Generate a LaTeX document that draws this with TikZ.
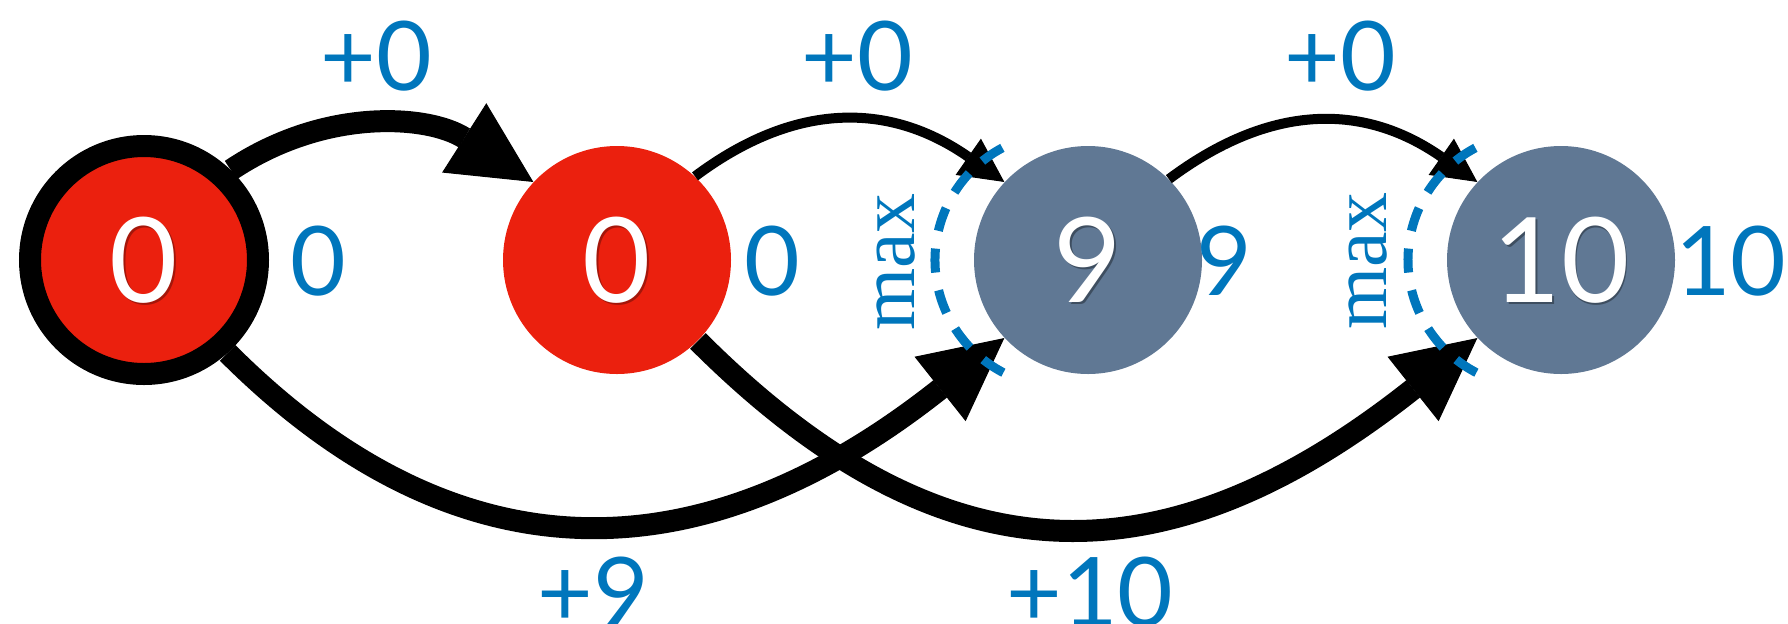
\documentclass[tikz,border=0pt]{standalone}
\usepackage{fontspec}
\setmainfont{Lato}
\newfontfamily\maxfont{Liberation Serif}
\usetikzlibrary{arrows.meta}

\definecolor{nodered}{RGB}{235,32,14}
\definecolor{nodeslate}{RGB}{96,120,148}
\definecolor{labelblue}{RGB}{0,118,188}

% white digit with a faint dark copy underneath
\newcommand\shadowdigit[2]{\rlap{\kern0.8pt\smash{\raisebox{-0.9pt}{\textcolor{#1}{#2}}}}#2}

\begin{document}
\begin{tikzpicture}[x=0.5pt, y=-0.5pt,
  state/.style={circle, minimum size=114pt, inner sep=0pt, text=white,
    font=\fontsize{59}{59}\selectfont},
  redstate/.style={state, fill=nodered},
  slatestate/.style={state, fill=nodeslate},
  startstate/.style={redstate, draw=black, line width=11pt},
  value/.style={text=labelblue, inner sep=0pt, font=\fontsize{48}{48}\selectfont},
  heavy/.style={line width=11pt, -{Triangle[length=41pt, width=41pt, line width=0.5pt]}},
  light/.style={line width=5pt, -{Triangle[length=22pt, width=22pt, line width=0.5pt]}},
  maxarc/.style={draw=labelblue, line width=4.5pt, dash pattern=on 12pt off 9pt},
  maxlabel/.style={text=labelblue, rotate=90, inner sep=0pt,
    font=\maxfont\fontsize{40}{40}\selectfont}
]
\useasboundingbox (0,0) rectangle (1788,623);

% states
\node[startstate] (A) at (144,260) {\shadowdigit{nodered!70!black}{0}};
\node[redstate]   (B) at (617,260) {\shadowdigit{nodered!70!black}{0}};
\node[slatestate] (C) at (1088,260) {\shadowdigit{nodeslate!65!black}{9}};
\node[slatestate] (D) at (1561,260) {\shadowdigit{nodeslate!65!black}{10}};

% accumulated values
\node[value] (vA) at (318,261) {0};
\node[value] (vB) at (772,261) {0};
\node[value] (vC) at (1224,261) {9};
\node[value, anchor=east] (vD) at (1787,261) {10};

% transitions
\draw[heavy] (A.46) .. controls +(94,-63) and +(-105,-67) .. (B.137);
\draw[light] (B.47) .. controls +(99,-74) and +(-116,-81) .. (C.137);
\draw[light] (C.45) .. controls +(99,-74) and +(-116,-81) .. (D.137);
\draw[heavy] (A.-48) .. controls +(233,233) and +(-299,237) .. (C.223);
\draw[heavy] (B.-45) .. controls +(240,240) and +(-318,252) .. (D.223);

% edge weights
\node[value] (wAB) at (376,56) {+0};
\node[value] (wBC) at (857,56) {+0};
\node[value] (wCD) at (1340,56) {+0};
\node[value] (wAC) at (593,592) {+9};
\node[value] (wBD) at (1090,592) {+10};

% max over incoming edges
\draw[maxarc] ([xshift=-13pt]C.center) ++(118:63.5pt) arc[start angle=118, end angle=246, radius=63.5pt];
\draw[maxarc] ([xshift=-13pt]D.center) ++(118:63.5pt) arc[start angle=118, end angle=246, radius=63.5pt];
\node[maxlabel] (mC) at (896,262) {max};
\node[maxlabel] (mD) at (1368,261) {max};
\end{tikzpicture}
\end{document}
